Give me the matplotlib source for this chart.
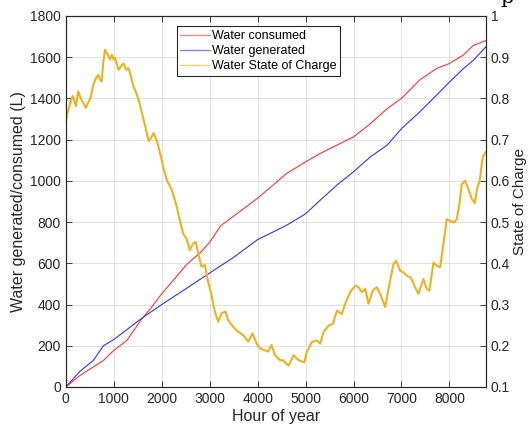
import matplotlib
matplotlib.use("Agg")
import matplotlib.pyplot as plt

plt.rcParams["font.family"] = ["Liberation Sans", "DejaVu Sans"]

# Water consumed (L)
hours_consumed = [0, 294, 573, 783, 1000, 1273, 1587, 1762, 2000, 2322, 2531, 2811,
                  3000, 3230, 3510, 3790, 4000, 4254, 4600, 5000, 5300, 5650, 6000,
                  6350, 6700, 7000, 7380, 7730, 8000, 8290, 8500, 8760]
consumed = [0, 56, 97, 129, 177, 226, 331, 379, 452, 540, 597, 653,
            702, 782, 831, 879, 916, 966, 1035, 1092, 1132, 1173, 1213,
            1277, 1350, 1400, 1489, 1545, 1569, 1610, 1657, 1680]

# Water generated (L)
hours_generated = [0, 294, 573, 783, 1000, 1587, 2000, 2500, 3000, 3500, 4000, 4254,
                   4600, 5000, 5300, 5650, 6000, 6350, 6700, 7000, 7380, 7730, 8000,
                   8290, 8500, 8760]
generated = [0, 76, 129, 200, 230, 334, 400, 476, 553, 629, 715, 744,
             784, 840, 905, 979, 1044, 1116, 1173, 1253, 1334, 1415, 1479,
             1544, 1585, 1650]

# Water state of charge (-)
hours_soc = [0, 28, 84, 140, 168, 210, 259, 308, 364, 420, 469, 517, 573, 629, 678,
             713, 748, 783, 818, 853, 888, 923, 958, 993, 1028, 1098, 1147, 1203,
             1259, 1308, 1357, 1413, 1469, 1517, 1587, 1657, 1727, 1776, 1832, 1902,
             1972, 2042, 2112, 2204, 2308, 2378, 2447, 2517, 2586, 2656, 2711, 2760,
             2830, 2899, 2968, 3038, 3107, 3177, 3247, 3331, 3385, 3490, 3594, 3698,
             3803, 3893, 3977, 4046, 4129, 4220, 4290, 4359, 4463, 4528, 4646, 4750,
             4854, 4972, 5028, 5132, 5236, 5306, 5375, 5479, 5569, 5653, 5757, 5826,
             5931, 6035, 6104, 6174, 6243, 6313, 6403, 6486, 6556, 6660, 6729, 6833,
             6889, 6972, 7042, 7111, 7194, 7285, 7354, 7458, 7528, 7583, 7667, 7736,
             7806, 7875, 7944, 8014, 8097, 8153, 8208, 8257, 8326, 8396, 8460, 8530,
             8578, 8634, 8690, 8718, 8760]
soc = [0.740, 0.762, 0.785, 0.806, 0.797, 0.781, 0.817, 0.801, 0.789, 0.777, 0.791,
       0.801, 0.833, 0.849, 0.857, 0.845, 0.841, 0.890, 0.918, 0.910, 0.902, 0.894,
       0.906, 0.895, 0.898, 0.869, 0.877, 0.885, 0.869, 0.873, 0.853, 0.829, 0.813,
       0.797, 0.765, 0.732, 0.696, 0.704, 0.716, 0.696, 0.664, 0.628, 0.600, 0.580,
       0.540, 0.504, 0.472, 0.460, 0.432, 0.448, 0.452, 0.424, 0.392, 0.396, 0.355,
       0.323, 0.283, 0.258, 0.279, 0.283, 0.262, 0.246, 0.234, 0.226, 0.210, 0.230,
       0.206, 0.194, 0.190, 0.186, 0.202, 0.178, 0.165, 0.165, 0.152, 0.177, 0.165,
       0.160, 0.185, 0.209, 0.213, 0.205, 0.233, 0.249, 0.253, 0.285, 0.277, 0.302,
       0.330, 0.346, 0.342, 0.330, 0.338, 0.302, 0.334, 0.342, 0.326, 0.294, 0.338,
       0.398, 0.406, 0.382, 0.378, 0.370, 0.366, 0.342, 0.326, 0.362, 0.338, 0.334,
       0.402, 0.394, 0.390, 0.447, 0.507, 0.503, 0.499, 0.507, 0.544, 0.592, 0.600,
       0.580, 0.558, 0.546, 0.582, 0.602, 0.654, 0.662, 0.670]

x_ticks = [0, 1000, 2000, 3000, 4000, 5000, 6000, 7000, 8000]
y_ticks = [0, 200, 400, 600, 800, 1000, 1200, 1400, 1600, 1800]
soc_ticks = [0.1, 0.2, 0.3, 0.4, 0.5, 0.6, 0.7, 0.8, 0.9, 1.0]
soc_labels = ["0.1", "0.2", "0.3", "0.4", "0.5", "0.6", "0.7", "0.8", "0.9", "1"]

fig = plt.figure(figsize=(5.31, 4.30), dpi=100)
ax = fig.add_axes([0.124, 0.1, 0.791, 0.863])
ax2 = ax.twinx()

l1, = ax.plot(hours_consumed, consumed, color="#ff3030", lw=0.8, label="Water consumed")
l2, = ax.plot(hours_generated, generated, color="#3030ff", lw=0.8, label="Water generated")
l3, = ax2.plot(hours_soc, soc, color="#EDB120", lw=1.5, label="Water State of Charge")

ax.set_xlim(0, 8760)
ax.set_ylim(0, 1800)
ax.set_xticks(x_ticks)
ax.set_yticks(y_ticks)
ax2.set_ylim(0.1, 1.0)
ax2.set_yticks(soc_ticks)
ax2.set_yticklabels(soc_labels)

ax.grid(True, color="#dcdcdc", lw=0.6)
ax.set_axisbelow(True)

for a in (ax, ax2):
    for s in a.spines.values():
        s.set_color("#262626")
        s.set_linewidth(0.8)
    a.tick_params(direction="in", length=4, width=0.6, colors="#262626",
                  labelsize=10, labelcolor="#262626")
ax.tick_params(top=True)

ax.set_xlabel("Hour of year", fontsize=11.5, color="#262626", labelpad=2)
ax.set_ylabel("Water generated/consumed (L)", fontsize=11.5, color="#262626", labelpad=3)
ax2.set_ylabel("State of Charge", fontsize=11, color="#262626", labelpad=2)

leg = ax.legend(handles=[l1, l2, l3], loc="upper left", bbox_to_anchor=(0.264, 0.972),
                borderaxespad=0, fontsize=9, fancybox=False, framealpha=1,
                edgecolor="#262626", handlelength=2.4, handletextpad=0.1,
                labelspacing=0.25, borderpad=0.3)
leg.get_frame().set_linewidth(0.8)
for h in leg.get_lines():
    h.set_linewidth(1.0)
    h.set_alpha(0.6)

# bottom of a cut-off title
fig.text(0.955, 1 - 3 / 430, "p", family="DejaVu Serif", fontsize=15,
         ha="center", va="baseline", color="black")

fig.savefig("out.png", dpi=100)
